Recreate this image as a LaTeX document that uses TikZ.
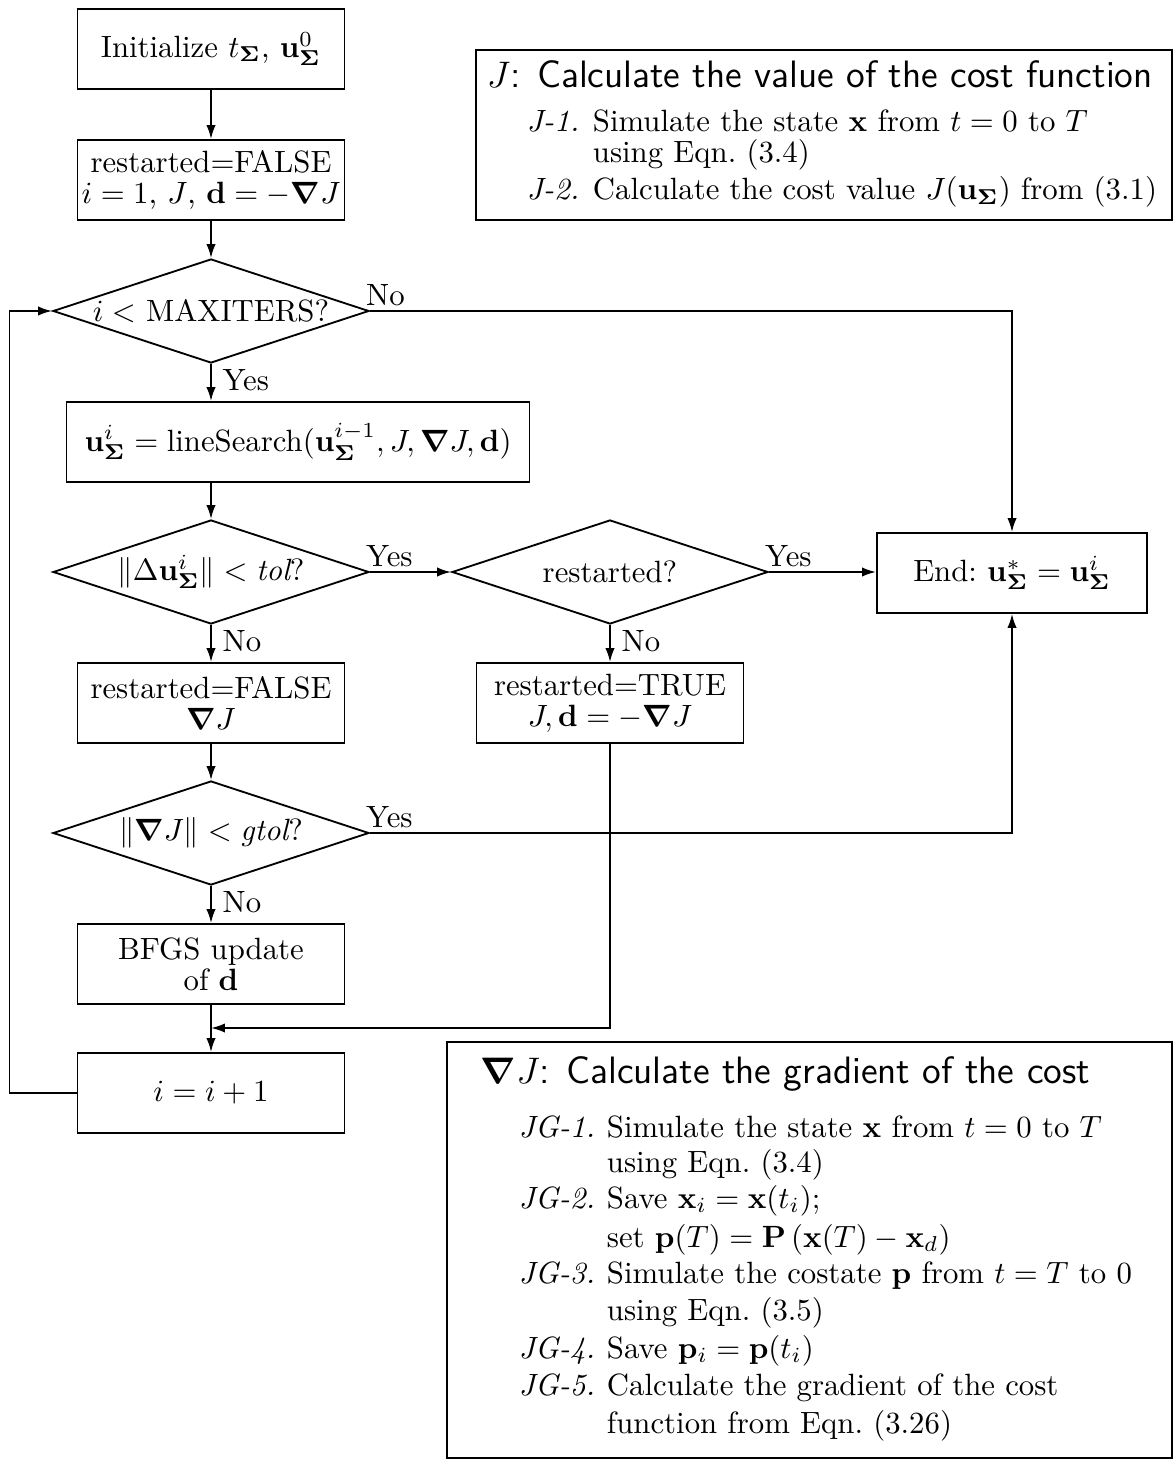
\documentclass[tikz,border=0pt]{standalone}
\usepackage{amsmath}
\usetikzlibrary{shapes.geometric,arrows.meta}
\begin{document}
\begin{tikzpicture}[x=0.325pt,y=-0.325pt,line width=0.6pt,
  >={Latex[length=4.5pt,width=3pt]},
  stepbox/.style={draw,rectangle,minimum width=86.8pt,minimum height=26pt,inner sep=1pt,align=center},
  decision/.style={draw,diamond,inner sep=0pt,minimum width=102.7pt,minimum height=33.8pt},
  infobox/.style={draw,rectangle,line width=0.8pt,inner sep=0pt},
  txt/.style={anchor=base west,inner sep=0pt},
  boxtitle/.style={txt,font=\fontsize{12.4}{14}\selectfont},
  yesno/.style={inner sep=1.5pt}]
  \useasboundingbox (0,0) rectangle (1174,1460);
  % main loop
  \node[stepbox] (init) at (211,49) {Initialize $t_{\mathbf{\Sigma}}$, $\mathbf{u}^0_{\mathbf{\Sigma}}$};
  \node[stepbox] (reset) at (211,180) {restarted=FALSE\\[-2pt] $i=1$, $J$, $\mathbf{d}=-\boldsymbol{\nabla}J$};
  \node[decision,label=center:{$i <$ MAXITERS?}] (maxit) at (211,311) {};
  \node[stepbox,minimum width=150.5pt] (search) at (298,442) {$\mathbf{u}^i_{\mathbf{\Sigma}} = \text{lineSearch}(\mathbf{u}^{i-1}_{\mathbf{\Sigma}}, J, \boldsymbol{\nabla}J, \mathbf{d})$};
  \node[decision,label=center:{$\|\Delta\mathbf{u}^i_{\mathbf{\Sigma}}\| < \textit{tol}$?}] (tol) at (211,572) {};
  \node[decision,label=center:{restarted?}] (restq) at (610,572) {};
  \node[stepbox,minimum width=87.8pt] (done) at (1012,573) {End:\ $\mathbf{u}^*_{\mathbf{\Sigma}} = \mathbf{u}^i_{\mathbf{\Sigma}}$};
  \node[stepbox] (keep) at (211,703) {restarted=FALSE\\[-2pt] $\boldsymbol{\nabla}J$};
  \node[stepbox] (again) at (610,703) {restarted=TRUE\\[-2pt] $J,\mathbf{d}=-\boldsymbol{\nabla}J$};
  \node[decision,label=center:{$\|\boldsymbol{\nabla}J\| < \textit{gtol}$?}] (gtol) at (211,833) {};
  \node[stepbox] (bfgs) at (211,964) {BFGS update\\[-2pt] of $\mathbf{d}$};
  \node[stepbox] (incr) at (211,1093) {$i=i+1$};
  \coordinate (merge) at (211,1028);
  % connectors
  \draw[->] (init) -- (reset);
  \draw[->] (reset) -- (maxit);
  \draw[->] (maxit.east) -- (maxit.east -| done.north) -- (done.north);
  \node[yesno,above right,xshift=-3pt] (noA) at (maxit.east) {No};
  \draw[->] (maxit.south) -- (maxit.south |- search.north);
  \node[yesno,below right,xshift=2pt] (yesA) at (maxit.south) {Yes};
  \draw[->] (search.south -| tol.north) -- (tol.north);
  \draw[->] (tol.east) -- (restq.west);
  \node[yesno,above right,xshift=-3pt] (yesB) at (tol.east) {Yes};
  \draw[->] (restq.east) -- (restq.east -| done.west);
  \node[yesno,above right,xshift=-3pt] (yesC) at (restq.east) {Yes};
  \draw[->] (tol.south) -- (keep.north);
  \node[yesno,below right,xshift=2pt] (noB) at (tol.south) {No};
  \draw[->] (restq.south) -- (again.north);
  \node[yesno,below right,xshift=2pt] (noC) at (restq.south) {No};
  \draw[->] (keep) -- (gtol);
  \draw[->] (gtol.east) -- (gtol.east -| done.south) -- (done.south);
  \node[yesno,above right,xshift=-3pt] (yesD) at (gtol.east) {Yes};
  \draw[->] (gtol.south) -- (bfgs.north);
  \node[yesno,below right,xshift=2pt] (noD) at (gtol.south) {No};
  \draw[->] (again.south) -- (again.south |- merge) -- (merge);
  \draw[->] (bfgs.south) -- (incr.north);
  \draw[->] (incr.west) -- ++(-67,0) |- (maxit.west);
  % cost function box
  \node[infobox,minimum width=226.2pt,minimum height=55.3pt] (costbox) at (824,135) {};
  \node[boxtitle] (costtitle) at (486,88) {$J$\textsf{: Calculate the value of the cost function}};
  \node[txt] (costA) at (526,132) {\textit{J-1.}};
  \node[txt] (costAa) at (592,132) {Simulate the state $\mathbf{x}$ from $t=0$ to $T$};
  \node[txt] (costAb) at (592,163) {using Eqn.~(3.4)};
  \node[txt] (costB) at (526,200) {\textit{J-2.}};
  \node[txt] (costBa) at (592,200) {Calculate the cost value $J(\mathbf{u}_{\mathbf{\Sigma}})$ from (3.1)};
  % gradient box
  \node[infobox,minimum width=235.6pt,minimum height=135.2pt] (gradbox) at (809.5,1250) {};
  \node[boxtitle] (gradtitle) at (480,1083) {$\boldsymbol{\nabla}J$\textsf{: Calculate the gradient of the cost}};
  \node[txt] (gradA) at (518,1137) {\textit{JG-1.}};
  \node[txt] (gradAa) at (606,1137) {Simulate the state $\mathbf{x}$ from $t=0$ to $T$};
  \node[txt] (gradAb) at (606,1172) {using Eqn.~(3.4)};
  \node[txt] (gradB) at (518,1208) {\textit{JG-2.}};
  \node[txt] (gradBa) at (606,1208) {Save $\mathbf{x}_i=\mathbf{x}(t_i)$;};
  \node[txt] (gradBb) at (606,1247) {set $\mathbf{p}(T)=\mathbf{P}\left(\mathbf{x}(T)-\mathbf{x}_d\right)$};
  \node[txt] (gradC) at (518,1283) {\textit{JG-3.}};
  \node[txt] (gradCa) at (606,1283) {Simulate the costate $\mathbf{p}$ from $t=T$ to $0$};
  \node[txt] (gradCb) at (606,1320) {using Eqn.~(3.5)};
  \node[txt] (gradD) at (518,1358) {\textit{JG-4.}};
  \node[txt] (gradDa) at (606,1358) {Save $\mathbf{p}_i=\mathbf{p}(t_i)$};
  \node[txt] (gradE) at (518,1395) {\textit{JG-5.}};
  \node[txt] (gradEa) at (606,1395) {Calculate the gradient of the cost};
  \node[txt] (gradEb) at (606,1433) {function from Eqn.~(3.26)};
\end{tikzpicture}
\end{document}
